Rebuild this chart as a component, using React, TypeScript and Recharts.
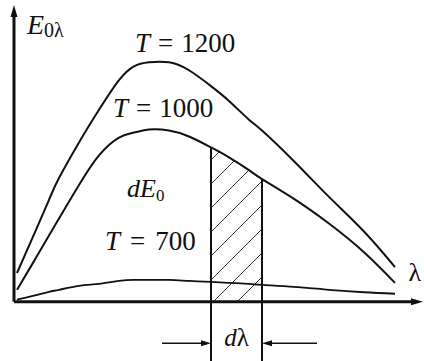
import React from 'react';
import { ComposedChart, Line, Area, XAxis, YAxis, ReferenceLine, ReferenceDot } from 'recharts';

// wavelength samples (arbitrary units) and spectral emissive power per temperature
const lambda = [0.3, 2, 3.5, 4.5, 6.5, 8.5, 10.5, 12, 13.5, 15.5, 17.5, 19.7, 21.5, 23.5, 24.8, 28, 31.5, 35, 38.1];
const t1200 = [2.9, 6.8, 10.3, 12.5, 16.1, 19.4, 22.4, 23.8, 24.2, 24.2, 23.4, 21.8, 20.3, 18.4, 17.3, 14.2, 10.6, 7.1, 3.5];
const t1000 = [1.2, 4.1, 6.7, 8.4, 11.8, 14.8, 16.6, 17.1, 17.4, 17.3, 16.7, 15.6, 14.6, 13.3, 12.4, 10.4, 7.9, 5.0, 1.9];
const t700 = [0.2, 0.6, 1.0, 1.2, 1.6, 1.8, 2.1, 2.2, 2.2, 2.2, 2.1, 2.0, 1.9, 1.8, 1.7, 1.5, 1.2, 0.95, 0.8];

// the dλ band under the T = 1000 curve
const dlFrom = 19.7;
const dlTo = 24.8;

const data = lambda.map((l, i) => ({
  lambda: l,
  t1200: t1200[i],
  t1000: t1000[i],
  t700: t700[i],
  strip: l >= dlFrom && l <= dlTo ? t1000[i] : null,
}));

const edgeAt = (l: number) => t1000[lambda.indexOf(l)];

const INK = '#111';
const SERIF = 'Liberation Serif';

// line with a filled arrow head at its second end
const arrow = (width: number, head: number, half: number) => (p: any) => {
  const { x1, y1, x2, y2 } = p;
  const dx = x2 - x1;
  const dy = y2 - y1;
  const len = Math.hypot(dx, dy) || 1;
  const ux = dx / len;
  const uy = dy / len;
  const bx = x2 - ux * head;
  const by = y2 - uy * head;
  const pts = `${x2},${y2} ${bx - uy * half},${by + ux * half} ${bx + uy * half},${by - ux * half}`;
  return (
    <g>
      <line x1={x1} y1={y1} x2={bx} y2={by} stroke={INK} strokeWidth={width} />
      <polygon points={pts} fill={INK} />
    </g>
  );
};

const label = (content: React.ReactNode, size: number, anchor: 'start' | 'middle' = 'start') => (p: any) => (
  <text x={p.cx} y={p.cy} textAnchor={anchor} fontFamily={SERIF} fontSize={size} fill={INK}>
    {content}
  </text>
);

const tLabel = (value: string, gap: number) => (
  <>
    <tspan fontStyle="italic">T</tspan>
    <tspan dx={gap}>=</tspan>
    <tspan dx={gap}>{value}</tspan>
  </>
);

export default function App() {
  return (
    <div style={{ position: 'absolute', left: 0, top: 0, width: 424, height: 361, background: '#fff' }}>
      <ComposedChart width={424} height={361} data={data} margin={{ top: 5, right: 0, bottom: 0, left: 14 }}>
        <defs>
          <pattern id="hatch" patternUnits="userSpaceOnUse" x={11} y={0} width={24} height={24}>
            <path d="M-6,6 L6,-6 M0,24 L24,0 M18,30 L30,18" stroke="#333" strokeWidth={1} />
          </pattern>
        </defs>
        <XAxis type="number" dataKey="lambda" domain={[0, 41]} allowDataOverflow hide />
        <YAxis type="number" domain={[-6, 30]} allowDataOverflow hide />

        <Area
          type="natural"
          dataKey="strip"
          stroke="none"
          fill="url(#hatch)"
          fillOpacity={1}
          baseValue={0}
          connectNulls={false}
          isAnimationActive={false}
        />

        <Line type="natural" dataKey="t1200" stroke={INK} strokeWidth={2} dot={false} activeDot={false} isAnimationActive={false} />
        <Line type="natural" dataKey="t1000" stroke={INK} strokeWidth={2} dot={false} activeDot={false} isAnimationActive={false} />
        <Line type="natural" dataKey="t700" stroke={INK} strokeWidth={1.8} dot={false} activeDot={false} isAnimationActive={false} />

        {/* band edges, running below the axis to the dλ marker */}
        <ReferenceLine segment={[{ x: dlFrom, y: -6 }, { x: dlFrom, y: edgeAt(dlFrom) }]} stroke={INK} strokeWidth={2} ifOverflow="visible" />
        <ReferenceLine segment={[{ x: dlTo, y: -6 }, { x: dlTo, y: edgeAt(dlTo) }]} stroke={INK} strokeWidth={2} ifOverflow="visible" />

        {/* axes */}
        <ReferenceLine segment={[{ x: 0, y: 0 }, { x: 0, y: 30 }]} ifOverflow="visible" shape={arrow(3, 12, 3.5)} />
        <ReferenceLine segment={[{ x: 0, y: 0 }, { x: 40.9, y: 0 }]} ifOverflow="visible" shape={arrow(3, 12, 3.5)} />

        {/* dλ width arrows */}
        <ReferenceLine segment={[{ x: 14.8, y: -4.2 }, { x: dlFrom, y: -4.2 }]} ifOverflow="visible" shape={arrow(1.5, 10, 3)} />
        <ReferenceLine segment={[{ x: 30.3, y: -4.2 }, { x: dlTo, y: -4.2 }]} ifOverflow="visible" shape={arrow(1.5, 10, 3)} />

        <ReferenceDot
          x={1.3}
          y={27.1}
          r={0}
          ifOverflow="visible"
          shape={label(
            <>
              <tspan fontStyle="italic">E</tspan>
              <tspan dy={3} fontSize={20}>0λ</tspan>
            </>,
            28,
          )}
        />
        <ReferenceDot x={12.1} y={25.25} r={0} ifOverflow="visible" shape={label(tLabel('1200', 8), 27)} />
        <ReferenceDot x={9.9} y={18.7} r={0} ifOverflow="visible" shape={label(tLabel('1000', 8), 27)} />
        <ReferenceDot
          x={11.3}
          y={10.6}
          r={0}
          ifOverflow="visible"
          shape={label(
            <>
              <tspan fontStyle="italic">dE</tspan>
              <tspan dy={4} fontSize={17}>0</tspan>
            </>,
            26,
          )}
        />
        <ReferenceDot x={9.1} y={5.2} r={0} ifOverflow="visible" shape={label(tLabel('700', 10), 27)} />
        <ReferenceDot x={39.45} y={2.1} r={0} ifOverflow="visible" shape={label('λ', 26)} />
        <ReferenceDot
          x={(dlFrom + dlTo) / 2}
          y={-4.5}
          r={0}
          ifOverflow="visible"
          shape={label(
            <>
              <tspan fontStyle="italic">d</tspan>
              <tspan>λ</tspan>
            </>,
            25,
            'middle',
          )}
        />
      </ComposedChart>
    </div>
  );
}
